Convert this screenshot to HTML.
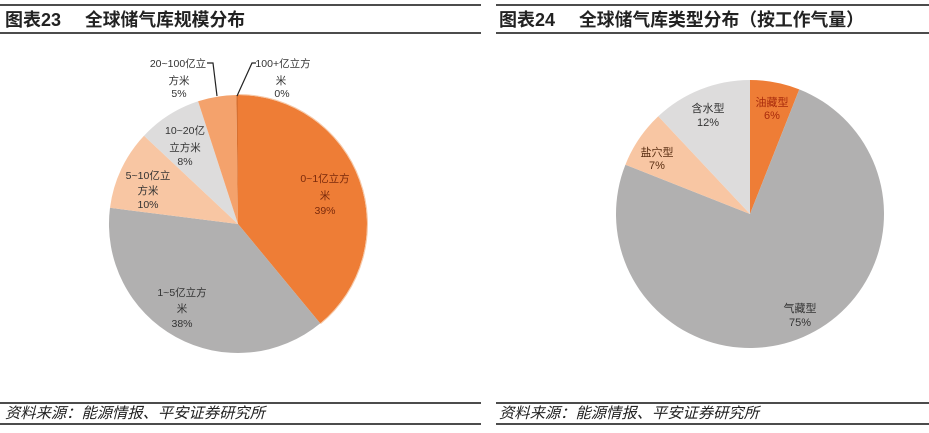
<!DOCTYPE html>
<html><head><meta charset="utf-8"><style>
html,body{margin:0;padding:0;background:#fff;}
svg{display:block;}
.t{font-family:"Liberation Sans","Noto Sans CJK SC",sans-serif;}
</style></head><body>
<svg width="929" height="433" viewBox="0 0 929 433" xmlns="http://www.w3.org/2000/svg" class="t">
<rect width="929" height="433" fill="#fff"/>
<!-- header lines -->
<g stroke="#111" stroke-width="1.5">
<line x1="0" y1="5" x2="481" y2="5"/>
<line x1="496" y1="5" x2="929" y2="5"/>
<line x1="0" y1="33" x2="481" y2="33"/>
<line x1="496" y1="33" x2="929" y2="33"/>
<line x1="0" y1="403" x2="481" y2="403"/>
<line x1="496" y1="403" x2="929" y2="403"/>
<line x1="0" y1="424" x2="481" y2="424"/>
<line x1="496" y1="424" x2="929" y2="424"/>
</g>
<g font-size="18" font-weight="bold" fill="#222">
<text x="5" y="26">图表23</text>
<text x="85" y="26" textLength="160" lengthAdjust="spacingAndGlyphs">全球储气库规模分布</text>
<text x="499" y="26">图表24</text>
<text x="579" y="26" textLength="285" lengthAdjust="spacingAndGlyphs">全球储气库类型分布（按工作气量）</text>
</g>
<g font-size="15" font-style="italic" fill="#222">
<text x="5" y="418" textLength="260" lengthAdjust="spacingAndGlyphs">资料来源：能源情报、平安证券研究所</text>
<text x="499" y="418" textLength="260" lengthAdjust="spacingAndGlyphs">资料来源：能源情报、平安证券研究所</text>
</g>

<!-- Left pie: center (238,224) r=129 -->
<g>
<path d="M238,224 L238,95 A129,129 0 0 1 320.2,323.4 Z" fill="#EE7D36"/>
<path d="M238,224 L320.2,323.4 A129,129 0 0 1 110.0,207.8 Z" fill="#B1B0B0"/>
<path d="M238,224 L110.0,207.8 A129,129 0 0 1 144.0,135.7 Z" fill="#F8C6A3"/>
<path d="M238,224 L144.0,135.7 A129,129 0 0 1 198.1,101.3 Z" fill="#DDDCDC"/>
<path d="M238,224 L198.1,101.3 A129,129 0 0 1 236.4,95.0 Z" fill="#F4A26C"/>
<path d="M238,224 L236.4,95.0 A129,129 0 0 1 238,95 Z" fill="#D87030"/>
<path d="M238,94.5 A129.5,129.5 0 0 1 320.5,323.8" fill="none" stroke="#F6C9A8" stroke-width="1"/>
</g>
<g stroke="#222" stroke-width="1.2" fill="none">
<polyline points="207,63 213,63 217,96"/>
<polyline points="256,63 252,63 237,96"/>
</g>
<g font-size="10.5" fill="#333" text-anchor="middle">
<text x="178" y="67">20~100亿立</text>
<text x="179" y="84">方米</text>
<text x="179" y="97">5%</text>
<text x="283" y="67">100+亿立方</text>
<text x="281" y="84">米</text>
<text x="282" y="97">0%</text>
<text x="185" y="134">10~20亿</text>
<text x="185" y="151">立方米</text>
<text x="185" y="165">8%</text>
<text x="148" y="179">5~10亿立</text>
<text x="148" y="194">方米</text>
<text x="148" y="208">10%</text>
<text x="182" y="296">1~5亿立方</text>
<text x="182" y="312">米</text>
<text x="182" y="327">38%</text>
</g>
<g font-size="10.5" fill="#7A2A0C" text-anchor="middle">
<text x="325" y="182">0~1亿立方</text>
<text x="325" y="199">米</text>
<text x="325" y="214">39%</text>
</g>

<!-- Right pie: center (750,214) r=134 -->
<g>
<path d="M750,214 L750,80 A134,134 0 0 1 799.3,89.4 Z" fill="#EE7D36"/>
<path d="M750,214 L799.3,89.4 A134,134 0 1 1 625.4,164.7 Z" fill="#B1B0B0"/>
<path d="M750,214 L625.4,164.7 A134,134 0 0 1 658.3,116.3 Z" fill="#F8C6A3"/>
<path d="M750,214 L658.3,116.3 A134,134 0 0 1 750,80 Z" fill="#DDDCDC"/>
</g>
<g font-size="11" text-anchor="middle">
<text x="772" y="106" fill="#A82A0C">油藏型</text>
<text x="772" y="119" fill="#A82A0C">6%</text>
<text x="708" y="112" fill="#333">含水型</text>
<text x="708" y="126" fill="#333">12%</text>
<text x="657" y="156" fill="#5A2E12">盐穴型</text>
<text x="657" y="169" fill="#5A2E12">7%</text>
<text x="800" y="312" fill="#333">气藏型</text>
<text x="800" y="326" fill="#333">75%</text>
</g>
</svg>
</body></html>
